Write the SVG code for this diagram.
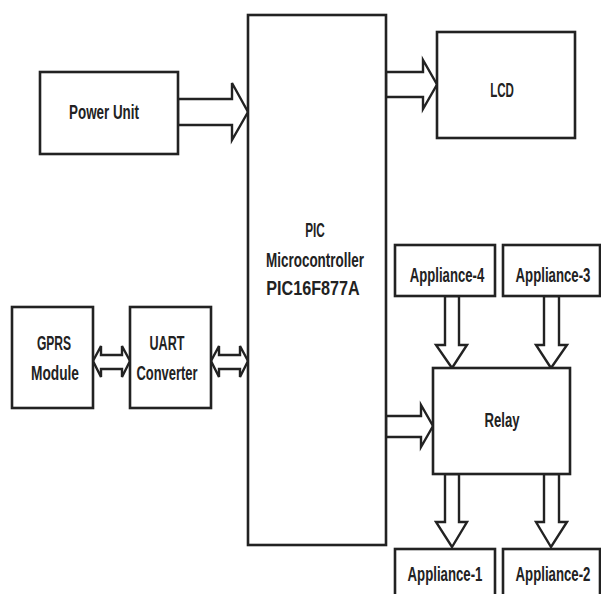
<svg xmlns="http://www.w3.org/2000/svg" width="601" height="594" viewBox="0 0 601 594">
<style>
.box{fill:#fff;stroke:#222;stroke-width:2.6}
.arr{fill:#fff;stroke:#222;stroke-width:2.4;stroke-linejoin:miter}
text{font-family:"Liberation Sans",Arial,sans-serif;font-size:21px;font-weight:bold;fill:#222;text-anchor:middle}
</style>
<rect width="601" height="594" fill="#fff"/>
<g id="connectors">
<polygon class="arr" points="178,99 232,99 232,83 248,112 232,140 232,125 178,125"/>
<polygon class="arr" points="386,72 423,72 423,60 437,84.5 423,109 423,97 386,97"/>
<polygon class="arr" points="386,416 421,416 421,405 433,426 421,447 421,437 386,437"/>
<polygon class="arr" points="93,361 101,346 101,355 122,355 122,346 130,361 122,377 122,369 101,369 101,377"/>
<polygon class="arr" points="211,361 219,346 219,355 240,355 240,346 248,361 240,377 240,369 219,369 219,377"/>
<polygon class="arr" points="445,296 459,296 459,345 467,345 452,368 436,345 445,345"/>
<polygon class="arr" points="544,296 559,296 559,345 567,345 551,368 536,345 544,345"/>
<polygon class="arr" points="445,474 459,474 459,522 467,522 452,547 436,522 445,522"/>
<polygon class="arr" points="544,474 559,474 559,522 567,522 551,547 536,522 544,522"/>
</g>
<g id="power-unit"><rect class="box" x="40" y="72" width="138" height="82"/><text transform="translate(104,119) scale(0.638,1)">Power Unit</text></g>
<g id="pic"><rect class="box" x="248" y="15" width="138" height="530"/>
<text transform="translate(315,237) scale(0.56,1)">PIC</text>
<text transform="translate(315,267) scale(0.641,1)">Microcontroller</text>
<text transform="translate(313,295) scale(0.77,1)">PIC16F877A</text></g>
<g id="lcd"><rect class="box" x="437" y="32" width="138" height="106"/><text transform="translate(502,97) scale(0.55,1)">LCD</text></g>
<g id="gprs"><rect class="box" x="12" y="307" width="81" height="101"/>
<text transform="translate(54,350) scale(0.575,1)">GPRS</text>
<text transform="translate(55,380) scale(0.653,1)">Module</text></g>
<g id="uart"><rect class="box" x="130" y="307" width="81" height="101"/>
<text transform="translate(167,350) scale(0.6,1)">UART</text>
<text transform="translate(167,380) scale(0.615,1)">Converter</text></g>
<g id="appliance-4"><rect class="box" x="395" y="245" width="100" height="51"/><text transform="translate(447,282) scale(0.625,1)">Appliance-4</text></g>
<g id="appliance-3"><rect class="box" x="503" y="245" width="97" height="51"/><text transform="translate(553,282) scale(0.63,1)">Appliance-3</text></g>
<g id="relay"><rect class="box" x="433" y="368" width="137" height="106"/><text transform="translate(502,427) scale(0.625,1)">Relay</text></g>
<g id="appliance-1"><rect class="box" x="395" y="549" width="100" height="60"/><text transform="translate(445,581) scale(0.63,1)">Appliance-1</text></g>
<g id="appliance-2"><rect class="box" x="503" y="549" width="97" height="60"/><text transform="translate(553,581) scale(0.63,1)">Appliance-2</text></g>
</svg>
